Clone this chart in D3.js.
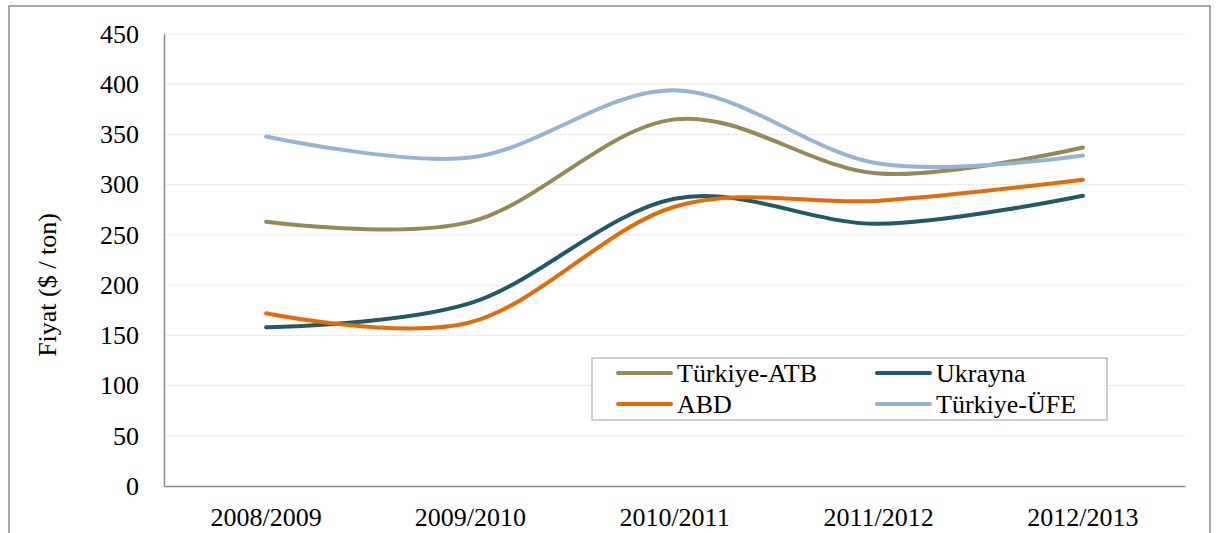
<!DOCTYPE html>
<html>
<head>
<meta charset="utf-8">
<script src="https://cdn.jsdelivr.net/npm/d3@7"></script>
<style>
  html, body { margin: 0; padding: 0; background: #fff; }
  svg { display: block; }
  svg text { font-family: "Liberation Serif", "Times New Roman", "DejaVu Serif", serif !important; fill: #000; }
</style>
</head>
<body>
<svg id="chart" width="1219" height="533"></svg>
<script>
const categories = ["2008/2009", "2009/2010", "2010/2011", "2011/2012", "2012/2013"];
const seriesNames = ["Türkiye-ATB", "Ukrayna", "ABD", "Türkiye-ÜFE"];
const atbValues = [263, 263, 365, 311, 337];
const ukraynaValues = [158, 182, 286, 261, 289];
const abdValues = [172, 163, 278, 284, 305];
const ufeValues = [348, 327, 394, 321, 329];
const yTicks = [0, 50, 100, 150, 200, 250, 300, 350, 400, 450];
const seriesColors = ["#948A54", "#215967", "#E36C09", "#95B3D7"];

const series = [
  { name: seriesNames[0], values: atbValues, color: seriesColors[0] },
  { name: seriesNames[1], values: ukraynaValues, color: seriesColors[1] },
  { name: seriesNames[2], values: abdValues, color: seriesColors[2] },
  { name: seriesNames[3], values: ufeValues, color: seriesColors[3] }
];

const FONT = "'Liberation Serif', 'Times New Roman', serif";
const svg = d3.select("#chart");
const margin = { left: 164, top: 34, right: 1185, bottom: 486 };

// outer frame
svg.append("rect")
  .attr("x", 9).attr("y", 6).attr("width", 1201).attr("height", 540)
  .attr("fill", "none").attr("stroke", "#8c8c8c").attr("stroke-width", 1.5);

const x = d3.scaleBand().domain(categories).range([margin.left, margin.right]);
const y = d3.scaleLinear().domain([0, 450]).range([margin.bottom, margin.top]);

// gridlines
svg.append("g").selectAll("line").data(yTicks.filter(d => d > 0)).join("line")
  .attr("x1", margin.left).attr("x2", margin.right)
  .attr("y1", d => y(d)).attr("y2", d => y(d))
  .attr("stroke", "#e3e3e3").attr("stroke-width", 1).attr("stroke-dasharray", "3,1");

// y axis
const yAxis = d3.axisLeft(y).tickValues(yTicks).tickSize(0).tickPadding(25);
const gy = svg.append("g").attr("transform", `translate(${margin.left},0)`).call(yAxis)
  .attr("font-family", FONT).attr("font-size", 26);
gy.select(".domain").attr("stroke", "#8c8c8c").attr("stroke-width", 1.5);
gy.selectAll("text").style("font-size", "26px");

// x axis
const xAxis = d3.axisBottom(x).tickSize(0).tickPadding(22);
const gx = svg.append("g").attr("transform", `translate(0,${margin.bottom})`).call(xAxis)
  .attr("font-family", FONT).attr("font-size", 26);
gx.select(".domain").attr("stroke", "#8c8c8c").attr("stroke-width", 1.5);
gx.selectAll("text").style("font-size", "26px");

// y title
svg.append("text")
  .attr("transform", "translate(56,285) rotate(-90)")
  .attr("text-anchor", "middle")
  .style("font-size", "26px")
  .text("Fiyat ($ / ton)");

// lines
const line = d3.line()
  .x((d, i) => x(categories[i]) + x.bandwidth() / 2)
  .y(d => y(d))
  .curve(d3.curveCardinal.tension(0));

svg.append("g").selectAll("path").data(series).join("path")
  .attr("d", s => line(s.values))
  .attr("fill", "none")
  .attr("stroke", s => s.color)
  .attr("stroke-width", 4)
  .attr("stroke-linecap", "round")
  .attr("stroke-linejoin", "round");

// legend
const lg = svg.append("g");
lg.append("rect")
  .attr("x", 592).attr("y", 358).attr("width", 515).attr("height", 62)
  .attr("fill", "#fff").attr("stroke", "#c0c0c0").attr("stroke-width", 1.5);
const legendPos = [
  { lx: 618, ty: 373 }, { lx: 877, ty: 373 },
  { lx: 618, ty: 404 }, { lx: 877, ty: 404 }
];
series.forEach((s, k) => {
  const p = legendPos[k];
  lg.append("line")
    .attr("x1", p.lx).attr("x2", p.lx + 53)
    .attr("y1", p.ty).attr("y2", p.ty)
    .attr("stroke", s.color).attr("stroke-width", 4).attr("stroke-linecap", "round");
  lg.append("text")
    .attr("x", p.lx + 59).attr("y", p.ty)
    .attr("dy", "0.35em")
    .style("font-size", "26px")
    .text(s.name);
});
</script>
</body>
</html>
